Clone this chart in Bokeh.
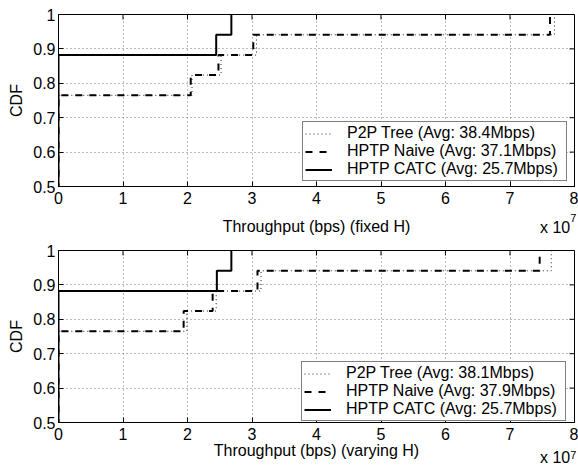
import math
from bokeh.plotting import figure
from bokeh.layouts import column
from bokeh.models import (FixedTicker, CustomJSTickFormatter, LinearAxis,
                          Legend, LegendItem, Range1d)
from bokeh.embed import file_html
from bokeh.resources import INLINE

# Throughput values in units of 1e7 bps (axis shows "x 10^7"), CDF levels
x_ticks = [0, 1, 2, 3, 4, 5, 6, 7, 8]
y_ticks = [0.5, 0.6, 0.7, 0.8, 0.9, 1]
x_max = 8
y_max = 1
scale_base_text = "x 10"
scale_exp_text = "7"
scale_base_pos = [7.70]
scale_exp_pos = [7.98]

# --- fixed H ---
fixed_p2p_x = [0, 0, 2.07, 2.52, 3.07, 7.69]
fixed_p2p_cdf = [0.0, 0.765, 0.824, 0.882, 0.941, 1.0]
fixed_naive_x = [0, 0, 2.05, 2.48, 3.02, 7.62]
fixed_naive_cdf = [0.0, 0.765, 0.824, 0.882, 0.941, 1.0]
fixed_catc_x = [0, 0, 2.445, 2.68]
fixed_catc_cdf = [0.0, 0.882, 0.941, 1.0]
fixed_labels = ["P2P Tree (Avg: 38.4Mbps)", "HPTP Naive (Avg: 37.1Mbps)", "HPTP CATC (Avg: 25.7Mbps)"]

# --- varying H ---
varying_p2p_x = [0, 0, 1.99, 2.445, 3.14, 7.64]
varying_p2p_cdf = [0.0, 0.765, 0.824, 0.882, 0.941, 1.0]
varying_naive_x = [0, 0, 1.94, 2.39, 3.085, 7.46]
varying_naive_cdf = [0.0, 0.765, 0.824, 0.882, 0.941, 1.0]
varying_catc_x = [0, 0, 2.455, 2.68]
varying_catc_cdf = [0.0, 0.882, 0.941, 1.0]
varying_labels = ["P2P Tree (Avg: 38.1Mbps)", "HPTP Naive (Avg: 37.9Mbps)", "HPTP CATC (Avg: 25.7Mbps)"]

FONT = "Liberation Sans"
FS = "16px"


def make_panel(series, labels, xlabel, height, b_top, b_bottom,
               exp_standoff, base_standoff, xlab_standoff, legend_loc):
    p = figure(width=578, height=height, x_range=Range1d(0, x_max), y_range=Range1d(0.5, y_max),
               output_backend="svg", toolbar_location=None,
               min_border_left=58, min_border_right=4,
               min_border_top=b_top, min_border_bottom=b_bottom)
    p.outline_line_color = "black"
    p.outline_line_width = 1
    fmt = CustomJSTickFormatter(code="return String(tick)")
    p.xaxis.ticker = FixedTicker(ticks=x_ticks)
    p.yaxis.ticker = FixedTicker(ticks=y_ticks)
    p.xaxis.formatter = fmt
    p.yaxis.formatter = fmt
    for ax in (p.xaxis, p.yaxis):
        ax.major_tick_in = 5
        ax.major_tick_out = 0
        ax.minor_tick_line_color = None
        ax.axis_line_color = "black"
        ax.major_tick_line_color = "black"
        ax.major_label_text_font = FONT
        ax.major_label_text_font_size = FS
        ax.major_label_text_color = "black"
        ax.axis_label_text_font = FONT
        ax.axis_label_text_font_size = FS
        ax.axis_label_text_font_style = "normal"
        ax.axis_label_text_color = "black"
    p.xaxis.major_label_standoff = 5
    p.yaxis.major_label_standoff = 3
    p.yaxis.axis_label = "CDF"
    p.yaxis.axis_label_standoff = 5

    # exponent ("7") and "x 10" + axis title, stacked below the numeric tick labels
    exp_ax = LinearAxis(ticker=FixedTicker(ticks=scale_exp_pos),
                        formatter=CustomJSTickFormatter(code="return '%s'" % scale_exp_text),
                        axis_line_color=None, major_tick_line_color=None,
                        minor_tick_line_color=None, major_tick_in=0, major_tick_out=0,
                        major_label_text_font=FONT, major_label_text_font_size="11px",
                        major_label_text_color="black", major_label_standoff=exp_standoff)
    p.add_layout(exp_ax, "below")
    base_ax = LinearAxis(ticker=FixedTicker(ticks=scale_base_pos),
                         formatter=CustomJSTickFormatter(code="return '%s'" % scale_base_text),
                         axis_line_color=None, major_tick_line_color=None,
                         minor_tick_line_color=None, major_tick_in=0, major_tick_out=0,
                         major_label_text_font=FONT, major_label_text_font_size=FS,
                         major_label_text_color="black", major_label_standoff=base_standoff,
                         axis_label=xlabel, axis_label_standoff=xlab_standoff,
                         axis_label_text_font=FONT, axis_label_text_font_size=FS,
                         axis_label_text_font_style="normal", axis_label_text_color="black")
    p.add_layout(base_ax, "below")

    p.grid.grid_line_color = "#777777"
    p.grid.grid_line_dash = "1 3"
    p.grid.grid_line_width = 1

    # inward box ticks on the top and right edges
    p.ray(x=x_ticks, y=[y_max] * len(x_ticks), length=5, length_units="screen",
          angle=-math.pi / 2, line_color="black", line_width=1)
    p.ray(x=[x_max] * len(y_ticks), y=y_ticks, length=5, length_units="screen",
          angle=math.pi, line_color="black", line_width=1)

    styles = [dict(line_width=1, line_dash="1 3", line_color="#222222"),
              dict(line_width=2, line_dash="7 7", line_color="black"),
              dict(line_width=2, line_dash="solid", line_color="black")]
    items = []
    for (xs, ys), st, lab in zip(series, styles, labels):
        r = p.step(xs, ys, mode="after", **st)
        items.append(LegendItem(label=lab, renderers=[r]))

    leg = Legend(items=items, location=legend_loc)
    leg.margin = 0
    leg.padding = 2
    leg.spacing = -1
    leg.glyph_width = 27
    leg.glyph_height = 17
    leg.label_height = 17
    leg.label_width = 217
    leg.label_standoff = 15
    leg.label_text_font = FONT
    leg.label_text_font_size = FS
    leg.label_text_color = "black"
    leg.border_line_color = "black"
    leg.border_line_width = 1
    leg.background_fill_color = "white"
    leg.background_fill_alpha = 1
    p.add_layout(leg)
    return p


p1 = make_panel([(fixed_p2p_x, fixed_p2p_cdf), (fixed_naive_x, fixed_naive_cdf),
                 (fixed_catc_x, fixed_catc_cdf)], fixed_labels,
                "Throughput (bps) (fixed H)", 240, 14, 54, 7, -6, -21, (244, 5))
p2 = make_panel([(varying_p2p_x, varying_p2p_cdf), (varying_naive_x, varying_naive_cdf),
                 (varying_catc_x, varying_catc_cdf)], varying_labels,
                "Throughput (bps) (varying H)", 226, 10, 44, 8, -13, -27, (243, 1))

layout = column(p1, p2, spacing=0)
open("out.html", "w").write(file_html(layout, INLINE))
